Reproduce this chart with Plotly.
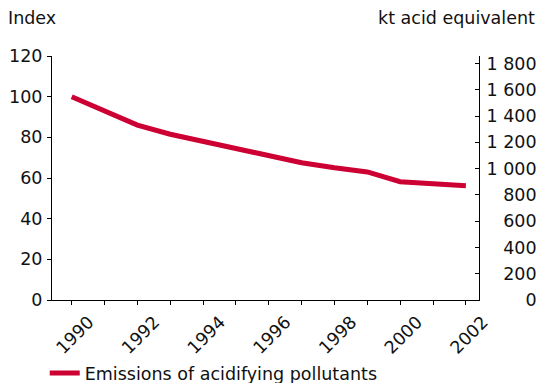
import plotly.graph_objects as go

# Emissions of acidifying pollutants, index 1990 = 100
years = list(range(1990, 2003))
emission_index = [100, 93, 86, 81.5, 78, 74.5, 71, 67.5, 65, 63, 58.2, 57, 56.2]

x_tick_labels = [str(y) if y % 2 == 0 else "" for y in years]
left_ticks = [0, 20, 40, 60, 80, 100, 120]
right_ticks = [0, 200, 400, 600, 800, 1000, 1200, 1400, 1600, 1800]
right_tick_labels = ["0", "200", "400", "600", "800", "1 000", "1 200", "1 400", "1 600", "1 800"]

FONT = "Verdana, DejaVu Sans, sans-serif"
RED = "#CC0033"


def pad_right_aligned(labels):
    # pad with figure spaces so the right-hand labels line up on their last digit
    width = max(len(s) for s in labels)
    out = []
    for s in labels:
        gap = width - len(s)
        if gap >= 2:
            pad = "\u2007" * (gap - 1) + "\u00a0"
        else:
            pad = "\u2007" * gap
        out.append(pad + s.replace(" ", "\u00a0"))
    return out


fig = go.Figure()
fig.add_trace(go.Scatter(
    x=years, y=emission_index, mode="lines",
    name="Emissions of acidifying pollutants",
    line=dict(color=RED, width=5),
))
# invisible trace so the secondary axis is drawn
fig.add_trace(go.Scatter(x=[years[0]], y=[0], yaxis="y2", mode="lines",
                         showlegend=False, hoverinfo="skip", line=dict(width=0)))

fig.update_layout(
    width=539, height=383,
    margin=dict(l=52, r=60, t=56, b=83),
    paper_bgcolor="white", plot_bgcolor="white",
    font=dict(family=FONT, size=17.5, color="#111111"),
    showlegend=True,
    legend=dict(orientation="h", xref="container", yref="container",
                x=0.083, y=0.073, xanchor="left", yanchor="top",
                font=dict(size=17.5), bgcolor="rgba(0,0,0,0)"),
    xaxis=dict(
        range=[1989.4, 2002.4], tickvals=years, ticktext=x_tick_labels,
        tickangle=-45, ticks="outside", ticklen=4, tickcolor="black",
        showline=True, linecolor="black", linewidth=1, automargin=False,
        showgrid=False, zeroline=False, ticklabelshift=17,
    ),
    yaxis=dict(
        range=[0, 120], tickvals=left_ticks, ticks="outside", ticklen=4,
        tickcolor="black", showline=True, linecolor="black", linewidth=1,
        showgrid=False, zeroline=False, ticklabelstandoff=1, automargin=False,
    ),
    yaxis2=dict(
        overlaying="y", side="right", range=[0, 1857],
        tickvals=right_ticks, ticktext=pad_right_aligned(right_tick_labels),
        ticks="inside", ticklen=4, tickcolor="black",
        showline=True, linecolor="black", linewidth=1, automargin=False,
        showgrid=False, zeroline=False, ticklabelstandoff=3,
    ),
    annotations=[
        dict(text="Index", xref="paper", yref="paper", x=0, y=1,
             xshift=-46, yshift=26, xanchor="left", yanchor="bottom",
             showarrow=False, font=dict(size=17.5)),
        dict(text="kt acid equivalent", xref="paper", yref="paper", x=1, y=1,
             xshift=58, yshift=26, xanchor="right", yanchor="bottom",
             showarrow=False, font=dict(size=17.5)),
    ],
)

fig.write_html("out.html")
